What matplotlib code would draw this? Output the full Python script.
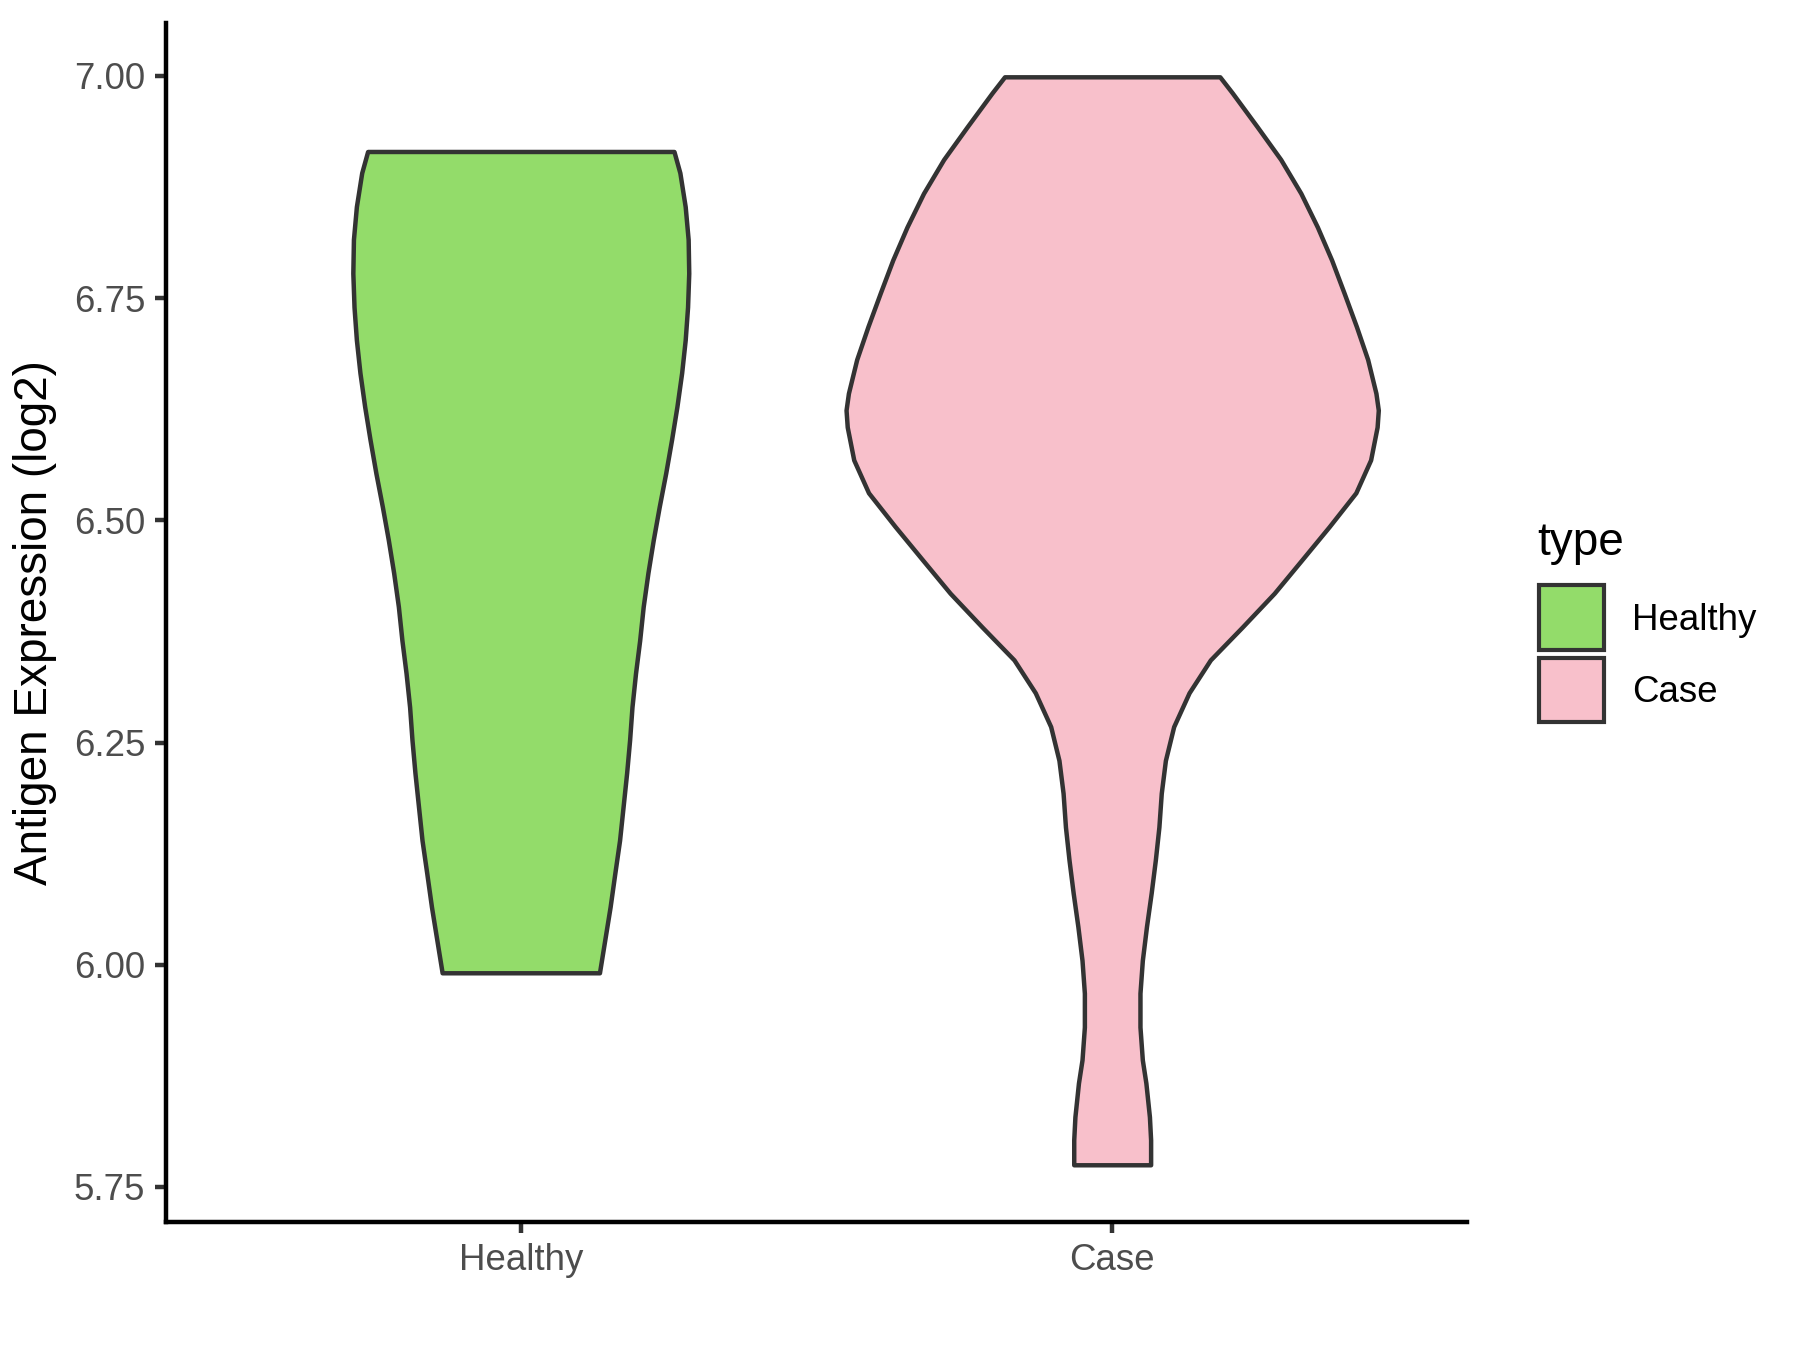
import matplotlib
matplotlib.use("Agg")
import matplotlib.pyplot as plt
from matplotlib.patches import Rectangle

# --- data (violin profiles) ---
categories = ["Healthy", "Case"]
legend_title = "type"
y_label = "Antigen Expression (log2)"
y_ticks = [5.75, 6.00, 6.25, 6.50, 6.75, 7.00]

# expression level and half-width of the violin at that level
healthy_y = [6.915, 6.891, 6.853, 6.816, 6.778, 6.740, 6.703, 6.666, 6.628,
             6.591, 6.553, 6.515, 6.478, 6.441, 6.403, 6.365, 6.328, 6.290,
             6.253, 6.216, 6.178, 6.140, 6.103, 6.065, 6.028, 5.991]
healthy_hw = [0.259, 0.269, 0.278, 0.283, 0.284, 0.282, 0.278, 0.272, 0.264,
              0.255, 0.245, 0.234, 0.224, 0.215, 0.207, 0.201, 0.194, 0.188,
              0.184, 0.179, 0.173, 0.167, 0.159, 0.151, 0.142, 0.133]

case_y = [6.999, 6.981, 6.943, 6.906, 6.868, 6.830, 6.793, 6.756, 6.718,
          6.681, 6.643, 6.624, 6.605, 6.568, 6.531, 6.493, 6.455, 6.418,
          6.380, 6.343, 6.306, 6.268, 6.230, 6.193, 6.155, 6.118, 6.081,
          6.043, 6.005, 5.968, 5.930, 5.893, 5.867, 5.829, 5.803, 5.775]
case_hw = [0.182, 0.203, 0.245, 0.285, 0.319, 0.347, 0.371, 0.392, 0.413,
           0.432, 0.446, 0.450, 0.448, 0.437, 0.412, 0.367, 0.320, 0.274,
           0.220, 0.166, 0.130, 0.104, 0.090, 0.083, 0.079, 0.073, 0.066,
           0.058, 0.051, 0.047, 0.047, 0.051, 0.057, 0.063, 0.065, 0.065]

fills = ["#93DC6A", "#F8C0CB"]
edge = "#333333"

plt.rcParams["font.family"] = ["Liberation Sans", "DejaVu Sans"]

W, H = 1800, 1350
fig = plt.figure(figsize=(6, 4.5), dpi=300)
ax = fig.add_axes([0.0922, 0.0948, 0.7228, 0.8882])

profiles = [(healthy_y, healthy_hw), (case_y, case_hw)]
for i, (ys, hws) in enumerate(profiles):
    pos = i + 1
    ax.fill_betweenx(ys, [pos - h for h in hws], [pos + h for h in hws],
                     facecolor=fills[i], edgecolor=edge, linewidth=1.07,
                     joinstyle="round")

ax.set_xlim(0.4, 2.6)
ax.set_ylim(5.7106, 7.0596)
ax.set_xticks([1, 2])
ax.set_xticklabels(categories)
ax.set_yticks(y_ticks)
ax.set_yticklabels([f"{t:.2f}" for t in y_ticks])
ax.tick_params(axis="both", length=2.75, width=1.07, color=edge,
               labelsize=8.8, labelcolor="#4D4D4D", pad=2.2)

ax.set_ylabel(y_label, fontsize=11, color="black", labelpad=4)

for s in ["top", "right"]:
    ax.spines[s].set_visible(False)
for s in ["left", "bottom"]:
    ax.spines[s].set_linewidth(1.07)
    ax.spines[s].set_color("black")

# --- legend (ggplot style, drawn in figure pixels) ---
fig.text(1537 / W, 1 - 555 / H, legend_title, fontsize=11, color="black",
         ha="left", va="baseline")
for i, lab in enumerate(categories):
    top = 585.3 + i * 72.4
    fig.patches.append(Rectangle((1538.7 / W, 1 - (top + 64.4) / H),
                                 65.3 / W, 64.4 / H, transform=fig.transFigure,
                                 facecolor=fills[i], edgecolor=edge,
                                 linewidth=1.0, figure=fig))
    fig.text(1631.7 / W, 1 - (630 + i * 72.4) / H, lab, fontsize=8.8,
             color="black", ha="left", va="baseline")

fig.savefig("out.png", dpi=300)
